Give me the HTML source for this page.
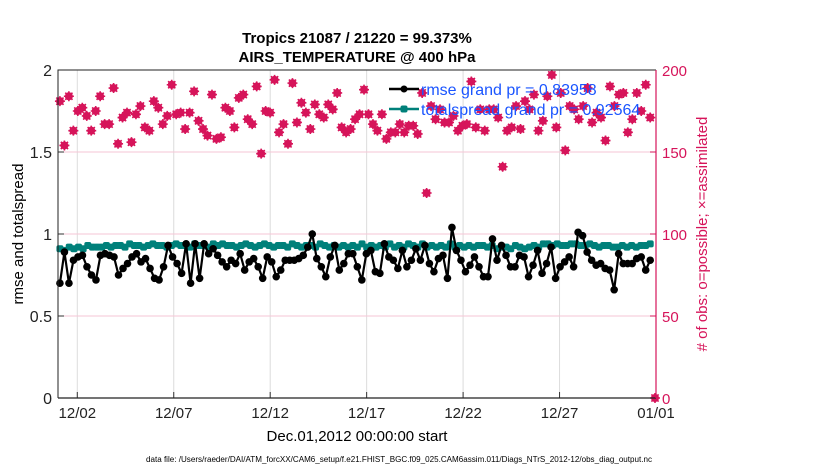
<!DOCTYPE html>
<html><head><meta charset="utf-8"><style>
html,body{margin:0;padding:0;background:#fff;}
svg{display:block;font-family:"Liberation Sans",Arial,sans-serif;}
</style></head><body>
<svg id="chart" width="830" height="470" viewBox="0 0 830 470" xmlns="http://www.w3.org/2000/svg">
<g id="grid"></g>
<g id="plot"></g>
<g id="axes"></g>
<text x="357" y="43" text-anchor="middle" font-size="15" font-weight="bold">Tropics 21087 / 21220 = 99.373%</text>
<text x="357" y="62" text-anchor="middle" font-size="15" font-weight="bold">AIRS_TEMPERATURE @ 400 hPa</text>
<text transform="translate(23,234) rotate(-90)" text-anchor="middle" font-size="15">rmse and totalspread</text>
<text transform="translate(707,234) rotate(-90)" text-anchor="middle" font-size="15" fill="#d6145a"># of obs: o=possible; ×=assimilated</text>
<text x="357" y="441" text-anchor="middle" font-size="15">Dec.01,2012 00:00:00 start</text>
<text x="399" y="462" text-anchor="middle" font-size="8" textLength="506" lengthAdjust="spacingAndGlyphs">data file: /Users/raeder/DAI/ATM_forcXX/CAM6_setup/f.e21.FHIST_BGC.f09_025.CAM6assim.011/Diags_NTrS_2012-12/obs_diag_output.nc</text>
<g id="legend"></g>
</svg>
<script>
const xTickLabels = ["12/02","12/07","12/12","12/17","12/22","12/27","01/01"];
const xTickDays = [1,6,11,16,21,26,31];
const yTicks = [0,0.5,1,1.5,2];
const y2Ticks = [0,50,100,150,200];
const rmse = [0.70,0.89,0.70,0.84,0.86,0.87,0.80,0.75,0.72,0.87,0.88,0.87,0.86,0.75,0.79,0.82,0.86,0.88,0.83,0.85,0.79,0.73,0.72,0.80,
0.93,0.86,0.82,0.76,0.94,0.70,0.94,0.73,0.94,0.88,0.91,0.87,0.83,0.80,0.84,0.82,0.88,0.78,0.83,0.85,0.80,0.73,0.86,0.83,
0.74,0.78,0.84,0.84,0.84,0.85,0.87,0.92,1.00,0.85,0.80,0.74,0.86,0.93,0.78,0.82,0.88,0.88,0.80,0.72,0.88,0.90,0.77,0.76,
0.94,0.86,0.84,0.79,0.90,0.80,0.84,0.91,0.84,0.93,0.82,0.77,0.85,0.87,0.73,1.04,0.90,0.84,0.77,0.81,0.86,0.80,0.74,0.74,
0.97,0.84,0.93,0.87,0.80,0.80,0.87,0.86,0.74,0.81,0.90,0.76,0.82,0.92,0.73,0.80,0.83,0.86,0.80,1.01,0.99,0.89,0.84,0.81,
0.82,0.79,0.78,0.66,0.88,0.82,0.82,0.82,0.85,0.86,0.78,0.84];
const spread = [0.91,0.90,0.92,0.91,0.92,0.91,0.93,0.92,0.92,0.92,0.93,0.92,0.93,0.93,0.92,0.94,0.93,0.93,0.92,0.93,0.94,0.93,0.93,0.92,
0.93,0.94,0.93,0.93,0.92,0.94,0.93,0.93,0.92,0.94,0.93,0.94,0.93,0.93,0.92,0.93,0.94,0.93,0.92,0.93,0.94,0.93,0.92,0.93,
0.93,0.92,0.94,0.93,0.92,0.93,0.93,0.92,0.94,0.93,0.92,0.93,0.92,0.93,0.92,0.93,0.92,0.94,0.92,0.93,0.92,0.93,0.92,0.94,
0.92,0.93,0.92,0.94,0.93,0.92,0.94,0.92,0.93,0.92,0.93,0.92,0.94,0.92,0.93,0.92,0.93,0.92,0.93,0.93,0.92,0.93,0.91,0.92,
0.92,0.91,0.93,0.92,0.91,0.92,0.93,0.92,0.94,0.94,0.93,0.94,0.93,0.93,0.94,0.94,0.93,0.93,0.94,0.93,0.92,0.93,0.93,0.92,
0.92,0.93,0.92,0.93,0.92,0.93,0.93,0.94];
const nobs = [181,154,184,163,175,177,172,163,175,184,167,167,189,155,171,174,156,173,178,165,163,181,177,167,
172,191,173,174,164,174,187,169,164,160,185,158,159,177,175,165,183,185,170,167,190,149,175,174,
194,162,167,155,192,168,180,174,164,179,173,171,179,176,186,165,162,164,170,173,188,173,167,163,
173,158,162,162,167,162,166,166,161,186,125,178,170,176,168,168,172,163,166,167,193,165,176,163,
176,176,171,141,163,165,178,164,181,176,185,163,169,184,197,165,186,151,178,176,170,178,189,168,
174,171,157,190,178,185,186,162,170,186,175,191,171];
const nobsFinal = [0];

const NS="http://www.w3.org/2000/svg";
const X0=58, X1=656, Y0=398, Y1=70;
const xs = d => X0 + d/31*(X1-X0);
const ys = v => Y0 - v/2*(Y0-Y1);
const ys2 = v => Y0 - v/200*(Y0-Y1);
const dayOf = (i,n) => 0.1 + i*30.6/(n-1);
function mk(tag, attrs, parent){const e=document.createElementNS(NS,tag);for(const k in attrs)e.setAttribute(k,attrs[k]);parent.appendChild(e);return e;}
const grid=document.getElementById('grid'), plot=document.getElementById('plot'), axes=document.getElementById('axes'), legend=document.getElementById('legend');

xTickDays.forEach((d,i)=>{
  const l=mk('line',{x1:xs(d),x2:xs(d),y1:Y1,y2:Y0,stroke:'#dcdcdc','stroke-width':1},grid);
  
  
  const t=mk('line',{x1:xs(d),x2:xs(d),y1:Y0,y2:Y0-6,stroke:'#333','stroke-width':1},axes);
  
  
  const tx=mk('text',{x:xs(d),y:Y0+20,'text-anchor':'middle','font-size':15,fill:'#222'},axes);
  tx.textContent=xTickLabels[i];
  
  
});
yTicks.forEach(v=>{
  if(v>0&&v<2){const l=mk('line',{x1:X0,x2:X1,y1:ys(v),y2:ys(v),stroke:'#f6c6d6','stroke-width':1},grid);
  
  }
  const t=mk('line',{x1:X0,x2:X0+6,y1:ys(v),y2:ys(v),stroke:'#333'},axes);
  
  
  const tx=mk('text',{x:X0-6,y:ys(v)+6,'text-anchor':'end','font-size':16,fill:'#222'},axes);
  tx.textContent=String(v);
  
  
});
y2Ticks.forEach(v=>{
  const t=mk('line',{x1:X1,x2:X1-6,y1:ys2(v),y2:ys2(v),stroke:'#d6145a'},axes);
  
  
  const tx=mk('text',{x:X1+6,y:ys2(v)+6,'font-size':15,fill:'#d6145a'},axes);
  tx.textContent=String(v);
  
  
});
let a=mk('path',{d:`M${X0},${Y0}V${Y1}H${X1}`,fill:'none',stroke:'#222','stroke-width':1},axes);


a=mk('line',{x1:X0,x2:X1,y1:Y0,y2:Y0,stroke:'#222','stroke-width':1.2},axes);


a=mk('line',{x1:X1,x2:X1,y1:Y1,y2:Y0,stroke:'#d6145a','stroke-width':1.2},axes);



function obsMarker(x,y){
  const g=mk('g',{},plot);
  
  
  mk('circle',{cx:x,cy:y,r:4,fill:'#d6145a'},g);
  mk('path',{d:`M${x-5},${y}H${x+5}M${x},${y-5}V${y+5}M${x-3.6},${y-3.6}L${x+3.6},${y+3.6}M${x-3.6},${y+3.6}L${x+3.6},${y-3.6}`,stroke:'#d6145a','stroke-width':1.6},g);
}
nobs.forEach((v,i)=>obsMarker(xs(dayOf(i,nobs.length)),ys2(v)));
nobsFinal.forEach(v=>obsMarker(xs(31)-1,ys2(v)));

const sp=spread.map((v,i)=>`${xs(dayOf(i,spread.length))},${ys(v)}`).join(' ');
let pl=mk('polyline',{points:sp,fill:'none',stroke:'#00807a','stroke-width':2},plot);


spread.forEach((v,i)=>{const r=mk('rect',{x:xs(dayOf(i,spread.length))-3.5,y:ys(v)-3.5,width:7,height:7,rx:2,fill:'#00807a'},plot);

});
const rp=rmse.map((v,i)=>`${xs(dayOf(i,rmse.length))},${ys(v)}`).join(' ');
pl=mk('polyline',{points:rp,fill:'none',stroke:'#000','stroke-width':2.2},plot);


rmse.forEach((v,i)=>{const c=mk('circle',{cx:xs(dayOf(i,rmse.length)),cy:ys(v),r:3.8,fill:'#000'},plot);

});

let e=mk('line',{x1:389,x2:419,y1:89,y2:89,stroke:'#000','stroke-width':2.5},legend);


mk('circle',{cx:404,cy:89,r:3.5,fill:'#000'},legend);
e=mk('text',{x:421,y:95,'font-size':16,fill:'#1a55ff'},legend);
e.textContent='rmse grand pr = 0.83958';


e=mk('line',{x1:389,x2:419,y1:109,y2:109,stroke:'#00807a','stroke-width':2.5},legend);


mk('rect',{x:400.5,y:105.5,width:7,height:7,rx:2,fill:'#00807a'},legend);
e=mk('text',{x:421,y:115,'font-size':16,fill:'#1a55ff'},legend);
e.textContent='totalspread grand pr = 0.92564';


</script>
</body></html>
